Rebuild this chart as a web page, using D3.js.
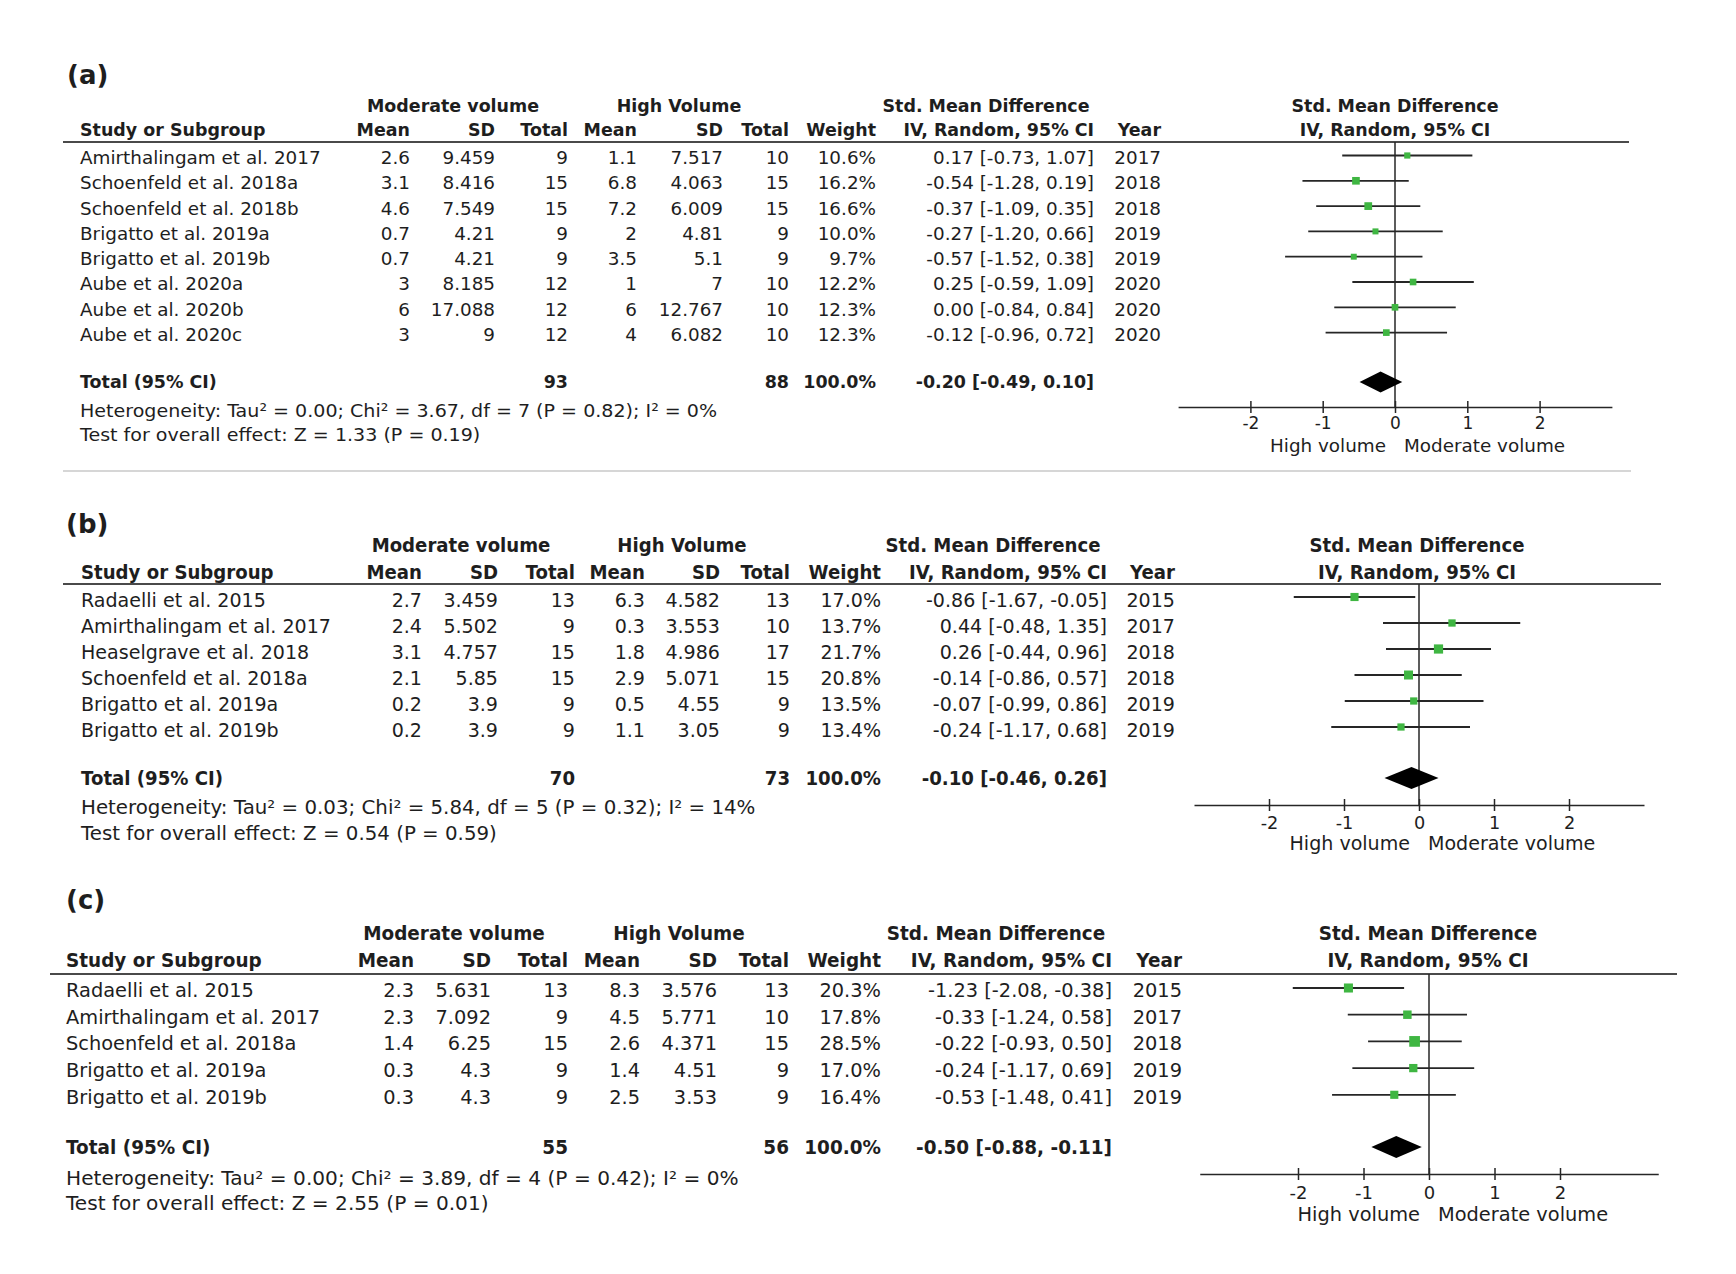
<!DOCTYPE html>
<html>
<head>
<meta charset="utf-8">
<script src="https://cdn.jsdelivr.net/npm/d3@7"></script>
<style>
body { margin: 0; background: #fff; }
text { font-family: "DejaVu Sans", sans-serif; fill: #1e1e1e; }
</style>
</head>
<body>
<div class="forest-figure"></div>
<script>
const w = 1736;
const h = 1274;

const tickVals = [-2, -1, 0, 1, 2];
const colNames = ["Mean", "SD", "Total", "Mean", "SD", "Total", "Weight", "IV, Random, 95% CI", "Year"];
const groupNames = ["Moderate volume", "High Volume", "Std. Mean Difference"];
const sideNames = ["High volume", "Moderate volume"];

// (a)
const studiesA = ["Amirthalingam et al. 2017", "Schoenfeld et al. 2018a", "Schoenfeld et al. 2018b", "Brigatto et al. 2019a",
  "Brigatto et al. 2019b", "Aube et al. 2020a", "Aube et al. 2020b", "Aube et al. 2020c"];
const modMeanA = [2.6, 3.1, 4.6, 0.7, 0.7, 3, 6, 3];
const modSdA = [9.459, 8.416, 7.549, 4.21, 4.21, 8.185, 17.088, 9];
const modNA = [9, 15, 15, 9, 9, 12, 12, 12];
const highMeanA = [1.1, 6.8, 7.2, 2, 3.5, 1, 6, 4];
const highSdA = [7.517, 4.063, 6.009, 4.81, 5.1, 7, 12.767, 6.082];
const highNA = [10, 15, 15, 9, 9, 10, 10, 10];
const weightA = [10.6, 16.2, 16.6, 10.0, 9.7, 12.2, 12.3, 12.3];
const smdA = [0.17, -0.54, -0.37, -0.27, -0.57, 0.25, 0.00, -0.12];
const loA = [-0.73, -1.28, -1.09, -1.20, -1.52, -0.59, -0.84, -0.96];
const hiA = [1.07, 0.19, 0.35, 0.66, 0.38, 1.09, 0.84, 0.72];
const yearA = [2017, 2018, 2018, 2019, 2019, 2020, 2020, 2020];
const totalNA = [93, 88];
const totalSmdA = [-0.20, -0.49, 0.10];
const hetA = "Heterogeneity: Tau² = 0.00; Chi² = 3.67, df = 7 (P = 0.82); I² = 0%";
const testA = "Test for overall effect: Z = 1.33 (P = 0.19)";

// (b)
const studiesB = ["Radaelli et al. 2015", "Amirthalingam et al. 2017", "Heaselgrave et al. 2018", "Schoenfeld et al. 2018a",
  "Brigatto et al. 2019a", "Brigatto et al. 2019b"];
const modMeanB = [2.7, 2.4, 3.1, 2.1, 0.2, 0.2];
const modSdB = [3.459, 5.502, 4.757, 5.85, 3.9, 3.9];
const modNB = [13, 9, 15, 15, 9, 9];
const highMeanB = [6.3, 0.3, 1.8, 2.9, 0.5, 1.1];
const highSdB = [4.582, 3.553, 4.986, 5.071, 4.55, 3.05];
const highNB = [13, 10, 17, 15, 9, 9];
const weightB = [17.0, 13.7, 21.7, 20.8, 13.5, 13.4];
const smdB = [-0.86, 0.44, 0.26, -0.14, -0.07, -0.24];
const loB = [-1.67, -0.48, -0.44, -0.86, -0.99, -1.17];
const hiB = [-0.05, 1.35, 0.96, 0.57, 0.86, 0.68];
const yearB = [2015, 2017, 2018, 2018, 2019, 2019];
const totalNB = [70, 73];
const totalSmdB = [-0.10, -0.46, 0.26];
const hetB = "Heterogeneity: Tau² = 0.03; Chi² = 5.84, df = 5 (P = 0.32); I² = 14%";
const testB = "Test for overall effect: Z = 0.54 (P = 0.59)";

// (c)
const studiesC = ["Radaelli et al. 2015", "Amirthalingam et al. 2017", "Schoenfeld et al. 2018a", "Brigatto et al. 2019a",
  "Brigatto et al. 2019b"];
const modMeanC = [2.3, 2.3, 1.4, 0.3, 0.3];
const modSdC = [5.631, 7.092, 6.25, 4.3, 4.3];
const modNC = [13, 9, 15, 9, 9];
const highMeanC = [8.3, 4.5, 2.6, 1.4, 2.5];
const highSdC = [3.576, 5.771, 4.371, 4.51, 3.53];
const highNC = [13, 10, 15, 9, 9];
const weightC = [20.3, 17.8, 28.5, 17.0, 16.4];
const smdC = [-1.23, -0.33, -0.22, -0.24, -0.53];
const loC = [-2.08, -1.24, -0.93, -1.17, -1.48];
const hiC = [-0.38, 0.58, 0.50, 0.69, 0.41];
const yearC = [2015, 2017, 2018, 2019, 2019];
const totalNC = [55, 56];
const totalSmdC = [-0.50, -0.88, -0.11];
const hetC = "Heterogeneity: Tau² = 0.00; Chi² = 3.89, df = 4 (P = 0.42); I² = 0%";
const testC = "Test for overall effect: Z = 2.55 (P = 0.01)";

// layout of each pasted panel (they were not pasted at the same scale)
const layoutA = {tag: "(a)", tagX: 67, tagY: 75, fs: 18, grpY: 106, headY: 129.5, lineY: 142, lineX: [63, 1629],
  row0: 157.5, rowStep: 25.3, totalY: 382, hetY: 410.5, testY: 435, studyX: 80,
  cols: [410, 495, 568, 637, 723, 789, 876, 1094, 1161], grpX: [453, 679, 986], plotHeadX: 1395,
  zero: 1395, unit: 72.3, span: 3, axisY: 407, tickPad: 4, axLabY: 446, ciOff: 2};
const layoutB = {tag: "(b)", tagX: 66, tagY: 524, fs: 18.7, grpY: 545, headY: 572, lineY: 584, lineX: [63, 1661],
  row0: 600, rowStep: 26, totalY: 778, hetY: 807, testY: 833, studyX: 81,
  cols: [422, 498, 575, 645, 720, 790, 881, 1107, 1175], grpX: [461, 682, 993], plotHeadX: 1417,
  zero: 1419, unit: 75, span: 3, axisY: 805, tickPad: 5, axLabY: 843, ciOff: 3};
const layoutC = {tag: "(c)", tagX: 66, tagY: 900, fs: 19, grpY: 933, headY: 960, lineY: 974, lineX: [50, 1677],
  row0: 990, rowStep: 26.7, totalY: 1147, hetY: 1178, testY: 1203, studyX: 66,
  cols: [414, 491, 568, 640, 717, 789, 881, 1112, 1182], grpX: [454, 679, 996], plotHeadX: 1428,
  zero: 1429, unit: 65.5, span: 3.5, axisY: 1174, tickPad: 6, axLabY: 1214, ciOff: 2};

const green = "#3fb642";
const ink = "#262626";
const f2 = v => v.toFixed(2);
const ciText = (m, lo, hi) => `${f2(m)} [${f2(lo)}, ${f2(hi)}]`;

let svg = d3.select("body").select(".forest-figure")
  .append("svg")
  .attr("width", w)
  .attr("height", h);

// text helper: y is the visual centre of the line, bold text is squeezed a little
function txt(g, x, y, str, anchor, fs, bold, sx) {
  const k = sx || (bold ? 0.97 : 1.02);
  return g.append("text")
    .attr("transform", `translate(${x},${y + 0.36 * fs}) scale(${k},1)`)
    .attr("text-anchor", anchor)
    .style("font-size", fs + "px")
    .style("font-weight", bold ? "bold" : "normal")
    .text(str);
}

function makeRows(st, mm, ms, mn, hm, hs, hn, wt, sm, lo, hi, yr) {
  return st.map((s, i) => ({
    study: s,
    cells: [String(mm[i]), String(ms[i]), String(mn[i]), String(hm[i]), String(hs[i]), String(hn[i]),
      wt[i].toFixed(1) + "%", ciText(sm[i], lo[i], hi[i]), String(yr[i])],
    smd: sm[i], lo: lo[i], hi: hi[i], weight: wt[i]
  }));
}

function drawPanel(rows, totN, totSmd, het, test, L) {
  const g = svg.append("g");
  const fs = L.fs;
  const rowY = i => L.row0 + i * L.rowStep;

  txt(g, L.tagX, L.tagY, L.tag, "start", 26, true, 1);

  // headers
  groupNames.forEach((t, i) => txt(g, L.grpX[i], L.grpY, t, "middle", fs, true));
  txt(g, L.plotHeadX, L.grpY, "Std. Mean Difference", "middle", fs, true);
  txt(g, L.studyX, L.headY, "Study or Subgroup", "start", fs, true);
  colNames.forEach((t, i) => txt(g, L.cols[i], L.headY, t, "end", fs, true));
  txt(g, L.plotHeadX, L.headY, "IV, Random, 95% CI", "middle", fs, true);

  g.append("line")
    .attr("x1", L.lineX[0]).attr("x2", L.lineX[1])
    .attr("y1", L.lineY).attr("y2", L.lineY)
    .attr("stroke", "#4a4a4a").attr("stroke-width", 2.2);

  // table rows
  rows.forEach((r, i) => {
    txt(g, L.studyX, rowY(i), r.study, "start", fs, false);
    r.cells.forEach((c, j) => txt(g, L.cols[j], rowY(i), c, "end", fs, false));
  });

  txt(g, L.studyX, L.totalY, "Total (95% CI)", "start", fs, true);
  txt(g, L.cols[2], L.totalY, String(totN[0]), "end", fs, true);
  txt(g, L.cols[5], L.totalY, String(totN[1]), "end", fs, true);
  txt(g, L.cols[6], L.totalY, "100.0%", "end", fs, true);
  txt(g, L.cols[7], L.totalY, ciText(totSmd[0], totSmd[1], totSmd[2]), "end", fs, true);
  txt(g, L.studyX, L.hetY, het, "start", fs, false, 1.06);
  txt(g, L.studyX, L.testY, test, "start", fs, false, 1.06);

  // forest plot
  const x = d3.scaleLinear()
    .domain([-L.span, L.span])
    .range([L.zero - L.span * L.unit, L.zero + L.span * L.unit]);

  g.append("line")
    .attr("x1", x(0)).attr("x2", x(0))
    .attr("y1", L.lineY).attr("y2", L.axisY)
    .attr("stroke", ink).attr("stroke-width", 1.5);

  g.selectAll(".ci")
    .data(rows)
    .enter()
    .append("line")
    .attr("x1", d => x(d.lo))
    .attr("x2", d => x(d.hi))
    .attr("y1", (d, i) => rowY(i) - L.ciOff)
    .attr("y2", (d, i) => rowY(i) - L.ciOff)
    .attr("stroke", ink)
    .attr("stroke-width", 1.8);

  const side = d => 1.9 * Math.sqrt(d.weight) * fs / 18;
  g.selectAll(".sq")
    .data(rows)
    .enter()
    .append("rect")
    .attr("x", d => x(d.smd) - side(d) / 2)
    .attr("y", (d, i) => rowY(i) - L.ciOff - side(d) / 2)
    .attr("width", side)
    .attr("height", side)
    .attr("fill", green);

  const dh = 10.5 * fs / 18;
  const dy = L.totalY;
  g.append("path")
    .attr("d", `M${x(totSmd[1])},${dy} L${x(totSmd[0])},${dy - dh} L${x(totSmd[2])},${dy} L${x(totSmd[0])},${dy + dh} Z`)
    .attr("fill", "#000");

  const ax = g.append("g")
    .attr("transform", `translate(0,${L.axisY})`)
    .call(d3.axisBottom(x)
      .tickValues(tickVals)
      .tickSize(6)
      .tickSizeOuter(0)
      .tickPadding(L.tickPad)
      .tickFormat(d => String(d)));
  ax.select(".domain").attr("stroke", ink).attr("stroke-width", 1.7);
  ax.selectAll(".tick line").attr("y1", -6).attr("y2", 6).attr("stroke", ink).attr("stroke-width", 1.5);
  ax.selectAll(".tick text").style("font-size", (fs - 1) + "px");

  txt(g, x(0) - 9, L.axLabY, sideNames[0], "end", fs, false);
  txt(g, x(0) + 9, L.axLabY, sideNames[1], "start", fs, false);
}

drawPanel(makeRows(studiesA, modMeanA, modSdA, modNA, highMeanA, highSdA, highNA, weightA, smdA, loA, hiA, yearA),
  totalNA, totalSmdA, hetA, testA, layoutA);
drawPanel(makeRows(studiesB, modMeanB, modSdB, modNB, highMeanB, highSdB, highNB, weightB, smdB, loB, hiB, yearB),
  totalNB, totalSmdB, hetB, testB, layoutB);
drawPanel(makeRows(studiesC, modMeanC, modSdC, modNC, highMeanC, highSdC, highNC, weightC, smdC, loC, hiC, yearC),
  totalNC, totalSmdC, hetC, testC, layoutC);

// grey rule under panel (a)
svg.append("line")
  .attr("x1", 63).attr("x2", 1631)
  .attr("y1", 471).attr("y2", 471)
  .attr("stroke", "#c8c8c8").attr("stroke-width", 1.5);
</script>
</body>
</html>
